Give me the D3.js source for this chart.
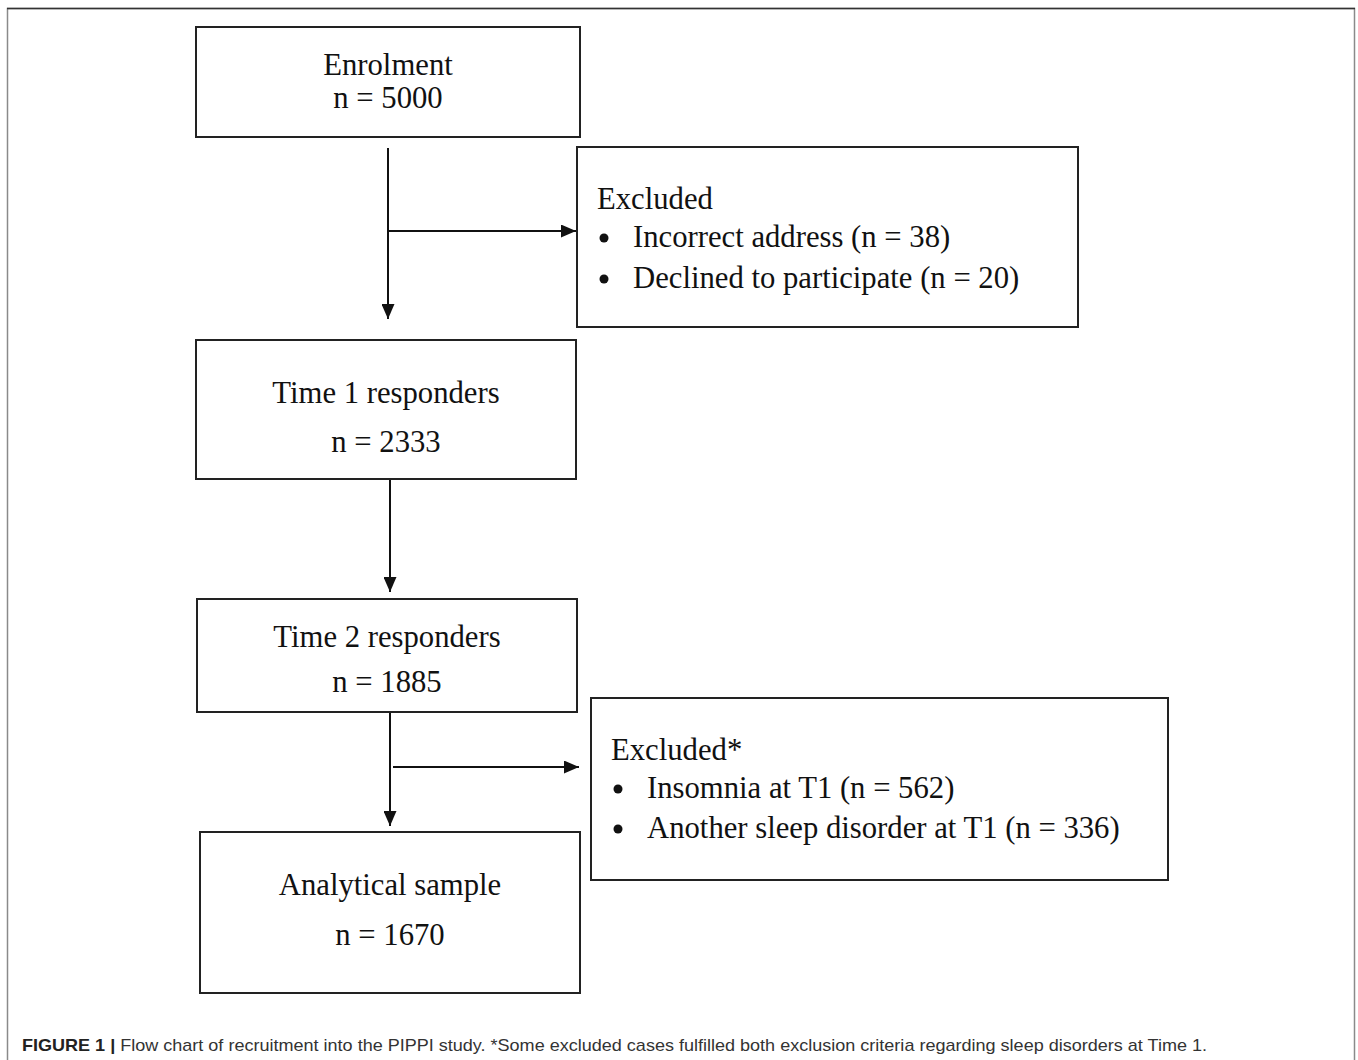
<!DOCTYPE html>
<html>
<head>
<meta charset="utf-8">
<script src="https://cdn.jsdelivr.net/npm/d3@7"></script>
<style>
body { margin: 0; background: #fff; }
</style>
</head>
<body>
<div id="chart"></div>
<script>
// flow chart values
var stageNames = ["Enrolment", "Time 1 responders", "Time 2 responders", "Analytical sample"];
var stageCounts = [5000, 2333, 1885, 1670];
var exclTitles = ["Excluded", "Excluded*"];
var exclReasons = [
    ["Incorrect address", "Declined to participate"],
    ["Insomnia at T1", "Another sleep disorder at T1"]
];
var exclCounts = [[38, 20], [562, 336]];
var captionBold = "FIGURE 1 |";
var captionText = " Flow chart of recruitment into the PIPPI study. *Some excluded cases fulfilled both exclusion criteria regarding sleep disorders at Time 1.";

var width = 1358, height = 1060;
var serif = "'Liberation Serif', 'Times New Roman', serif";
var fontSize = "30.7px";

// layout (pixels)
var stageBoxes = [
    {x: 196, y: 27, w: 384, h: 110, lines: [75, 108]},
    {x: 196, y: 340, w: 380, h: 139, lines: [403, 452]},
    {x: 197, y: 599, w: 380, h: 113, lines: [647, 692]},
    {x: 200, y: 832, w: 380, h: 161, lines: [895, 945]}
];
var exclBoxes = [
    {x: 577, y: 147, w: 501, h: 180, tx: 597, lines: [209, 247, 288]},
    {x: 591, y: 698, w: 577, h: 182, tx: 611, lines: [760, 798, 838]}
];
var arrows = [
    {x1: 388, y1: 148, x2: 388, y2: 319},
    {x1: 388, y1: 231, x2: 576, y2: 231},
    {x1: 390, y1: 480, x2: 390, y2: 592},
    {x1: 390, y1: 713, x2: 390, y2: 826},
    {x1: 393, y1: 767, x2: 579, y2: 767}
];

var svg = d3.select("#chart")
.append("svg")
.attr("width", width)
.attr("height", height);

// outer frame (no bottom edge)
svg.append("path")
.attr("d", "M7.5,1060 V8.5 H1354.5 V1060")
.attr("fill", "none")
.attr("stroke", "#8a8a8a")
.attr("stroke-width", 1.5);
svg.append("line")
.attr("x1", 7).attr("x2", 1355)
.attr("y1", 8.5).attr("y2", 8.5)
.attr("stroke", "#333")
.attr("stroke-width", 1.5);

svg.append("defs")
.append("marker")
.attr("id", "head")
.attr("viewBox", "0 0 10 10")
.attr("refX", 10)
.attr("refY", 5)
.attr("markerUnits", "userSpaceOnUse")
.attr("markerWidth", 15)
.attr("markerHeight", 13)
.attr("orient", "auto")
.attr("preserveAspectRatio", "none")
.append("path")
.attr("d", "M0,0 L10,5 L0,10 Z")
.attr("fill", "#111");

svg.selectAll(".arrow")
.data(arrows)
.enter()
.append("line")
.attr("class", "arrow")
.attr("x1", function(d) { return d.x1; })
.attr("y1", function(d) { return d.y1; })
.attr("x2", function(d) { return d.x2; })
.attr("y2", function(d) { return d.y2; })
.attr("stroke", "#111")
.attr("stroke-width", 2)
.attr("marker-end", "url(#head)");

var stages = stageNames.map(function(name, i) {
    return {name: name, count: stageCounts[i], box: stageBoxes[i]};
});

var stage = svg.selectAll(".stage")
.data(stages)
.enter()
.append("g")
.attr("class", "stage");

stage.append("rect")
.attr("x", function(d) { return d.box.x; })
.attr("y", function(d) { return d.box.y; })
.attr("width", function(d) { return d.box.w; })
.attr("height", function(d) { return d.box.h; })
.attr("fill", "#fff")
.attr("stroke", "#222")
.attr("stroke-width", 2);

stage.append("text")
.attr("x", function(d) { return d.box.x + d.box.w / 2; })
.attr("y", function(d) { return d.box.lines[0]; })
.attr("text-anchor", "middle")
.style("font-family", serif)
.style("font-size", fontSize)
.attr("fill", "#111")
.text(function(d) { return d.name; });

stage.append("text")
.attr("x", function(d) { return d.box.x + d.box.w / 2; })
.attr("y", function(d) { return d.box.lines[1]; })
.attr("text-anchor", "middle")
.style("font-family", serif)
.style("font-size", fontSize)
.attr("fill", "#111")
.text(function(d) { return "n = " + d.count; });

var excl = exclTitles.map(function(t, i) {
    return {title: t, reasons: exclReasons[i], counts: exclCounts[i], box: exclBoxes[i]};
});

var ex = svg.selectAll(".excl")
.data(excl)
.enter()
.append("g")
.attr("class", "excl");

ex.append("rect")
.attr("x", function(d) { return d.box.x; })
.attr("y", function(d) { return d.box.y; })
.attr("width", function(d) { return d.box.w; })
.attr("height", function(d) { return d.box.h; })
.attr("fill", "#fff")
.attr("stroke", "#222")
.attr("stroke-width", 2);

ex.append("text")
.attr("x", function(d) { return d.box.tx; })
.attr("y", function(d) { return d.box.lines[0]; })
.style("font-family", serif)
.style("font-size", fontSize)
.attr("fill", "#111")
.text(function(d) { return d.title; });

ex.each(function(d) {
    var g = d3.select(this);
    d.reasons.forEach(function(r, j) {
        var y = d.box.lines[j + 1];
        g.append("circle")
        .attr("cx", d.box.tx + 7)
        .attr("cy", y - 9)
        .attr("r", 4.5)
        .attr("fill", "#111");
        g.append("text")
        .attr("x", d.box.tx + 36)
        .attr("y", y)
        .style("font-family", serif)
        .style("font-size", fontSize)
        .attr("fill", "#111")
        .text(r + " (n = " + d.counts[j] + ")");
    });
});

var cap = svg.append("text")
.attr("x", 22)
.attr("y", 1051)
.style("font-family", "'Liberation Sans', Arial, sans-serif")
.style("font-size", "17px")
.attr("fill", "#333")
.attr("textLength", 1185)
.attr("lengthAdjust", "spacingAndGlyphs");
cap.append("tspan")
.style("font-weight", "bold")
.attr("fill", "#222")
.text(captionBold);
cap.append("tspan")
.text(captionText);
</script>
</body>
</html>
